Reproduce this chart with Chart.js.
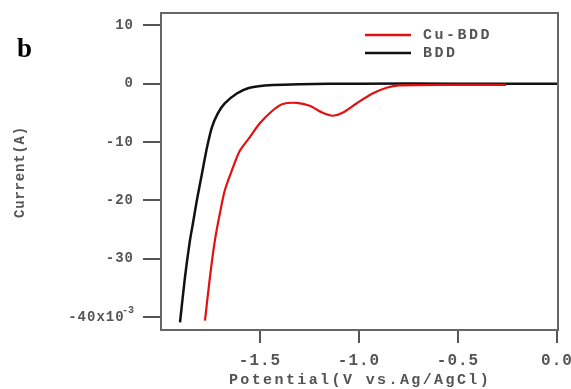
<!DOCTYPE html>
<html>
<head>
<meta charset="utf-8">
<script src="https://cdn.jsdelivr.net/npm/chart.js@4"></script>
<style>
html,body{margin:0;padding:0;background:#fff;}
#wrap{width:571px;height:389px;position:relative;}
</style>
</head>
<body>
<div id="wrap"><canvas id="c" width="571" height="389"></canvas></div>
<script>
// Data (potential in V vs Ag/AgCl, current in units of 1e-3 A)
const bddPotential = [-1.904, -1.879, -1.854, -1.839, -1.819, -1.793, -1.768, -1.743, -1.713, -1.678, -1.617, -1.552, -1.436, -1.30, -1.0, -0.5, 0.0];
const bddCurrent   = [-40.9, -33.2, -26.9, -24.0, -20.0, -15.4, -11.0, -7.5, -5.1, -3.4, -1.7, -0.7, -0.25, -0.1, 0.0, 0.0, 0.0];
const cuPotential  = [-1.778, -1.753, -1.728, -1.703, -1.678, -1.637, -1.602, -1.552, -1.501, -1.436, -1.385, -1.315, -1.249, -1.184, -1.133, -1.083, -1.013, -0.932, -0.861, -0.796, -0.544, -0.257];
const cuCurrent    = [-40.6, -33.2, -26.9, -22.3, -18.3, -14.4, -11.5, -9.2, -6.8, -4.6, -3.5, -3.3, -3.8, -5.0, -5.5, -5.0, -3.4, -1.7, -0.7, -0.3, -0.2, -0.2];
const seriesLabels = ['Cu-BDD', 'BDD'];
const yTickValues = [-40, -30, -20, -10, 0, 10];
const xTickValues = [-1.5, -1.0, -0.5, 0.0];
const xTitle = 'Potential(V vs.Ag/AgCl)';
const yTitle = 'Current(A)';
const yExponent = '-3';
const panelLabel = 'b';

const toPts = (xs, ys) => xs.map((x, i) => ({x: x, y: ys[i]}));

const grey = '#555';

const decor = {
  id: 'decor',
  beforeInit(chart) { chart.ctx.letterSpacing = '1px'; },
  beforeLayout(chart) { chart.ctx.letterSpacing = '1px'; },
  beforeDraw(chart) { chart.ctx.letterSpacing = '1px'; },
  afterDraw(chart) {
    const ctx = chart.ctx, a = chart.chartArea;
    ctx.save();
    // frame
    ctx.strokeStyle = '#666';
    ctx.lineWidth = 2;
    ctx.strokeRect(a.left, a.top, a.right - a.left, a.bottom - a.top);
    // panel label
    ctx.letterSpacing = '0px';
    ctx.fillStyle = '#000';
    ctx.font = 'bold 27px "Liberation Serif"';
    ctx.textBaseline = 'alphabetic';
    ctx.textAlign = 'left';
    ctx.fillText(panelLabel, 17, 57);
    // superscript for -40 tick
    const ys = chart.scales.y;
    const py = ys.getPixelForValue(-40);
    ctx.fillStyle = grey;
    ctx.font = 'bold 10px "Liberation Mono"';
    ctx.textBaseline = 'middle';
    ctx.textAlign = 'left';
    ctx.fillText(yExponent, 122, py - 7);
    // axis titles
    ctx.letterSpacing = '2.4px';
    ctx.font = 'bold 15px "Liberation Mono"';
    ctx.textAlign = 'center';
    ctx.fillText(xTitle, 360, 380);
    ctx.save();
    ctx.translate(20, 172);
    ctx.rotate(-Math.PI / 2);
    ctx.letterSpacing = '0.8px';
    ctx.font = 'bold 14px "Liberation Mono"';
    ctx.fillText(yTitle, 0, 0);
    ctx.restore();
    // legend
    const ds = chart.data.datasets;
    const lx0 = 365, lx1 = 411, tx = 423;
    const ly = [35, 53];
    ds.forEach((d, i) => {
      ctx.strokeStyle = d.borderColor;
      ctx.lineWidth = 2.5;
      ctx.beginPath();
      ctx.moveTo(lx0, ly[i]);
      ctx.lineTo(lx1, ly[i]);
      ctx.stroke();
      ctx.fillStyle = grey;
      ctx.letterSpacing = '2.5px';
      ctx.font = 'bold 15px "Liberation Mono"';
      ctx.textAlign = 'left';
      ctx.textBaseline = 'middle';
      ctx.fillText(d.label, tx, ly[i]);
    });
    ctx.restore();
  }
};

new Chart(document.getElementById('c'), {
  type: 'scatter',
  data: {
    datasets: [
      {label: seriesLabels[0], data: toPts(cuPotential, cuCurrent), borderColor: '#e31010', borderWidth: 2.2, showLine: true, pointRadius: 0, tension: 0.25},
      {label: seriesLabels[1], data: toPts(bddPotential, bddCurrent), borderColor: '#111', borderWidth: 2.5, showLine: true, pointRadius: 0, tension: 0.25}
    ]
  },
  options: {
    responsive: false,
    animation: false,
    layout: {padding: {top: 13, right: 13, left: 0, bottom: 0}},
    plugins: {legend: {display: false}, tooltip: {enabled: false}},
    scales: {
      x: {
        type: 'linear', min: -2.0, max: 0.005,
        afterBuildTicks: s => { s.ticks = xTickValues.map(v => ({value: v})); },
        afterFit: s => { s.height = 59; s.paddingLeft = 0; s.paddingRight = 0; },
        border: {display: false},
        grid: {drawOnChartArea: false, drawTicks: true, tickLength: 13, color: '#555', lineWidth: 2},
        ticks: {color: grey, font: {family: 'Liberation Mono', size: 16, weight: 'bold'}, padding: 8, maxRotation: 0,
          callback: v => v.toFixed(1)},
        title: {display: false}
      },
      y: {
        type: 'linear', min: -42.2, max: 12.1,
        afterBuildTicks: s => { s.ticks = yTickValues.map(v => ({value: v})); },
        afterFit: s => { s.width = 161; s.paddingTop = 0; s.paddingBottom = 0; },
        border: {display: false},
        grid: {drawOnChartArea: false, drawTicks: true, tickLength: 18, color: '#555', lineWidth: 2},
        ticks: {color: grey, font: {family: 'Liberation Mono', size: 14, weight: 'bold'}, padding: 9,
          callback: v => v === -40 ? '-40x10 ' : String(v)},
        title: {display: false}
      }
    }
  },
  plugins: [decor]
});
</script>
</body>
</html>
